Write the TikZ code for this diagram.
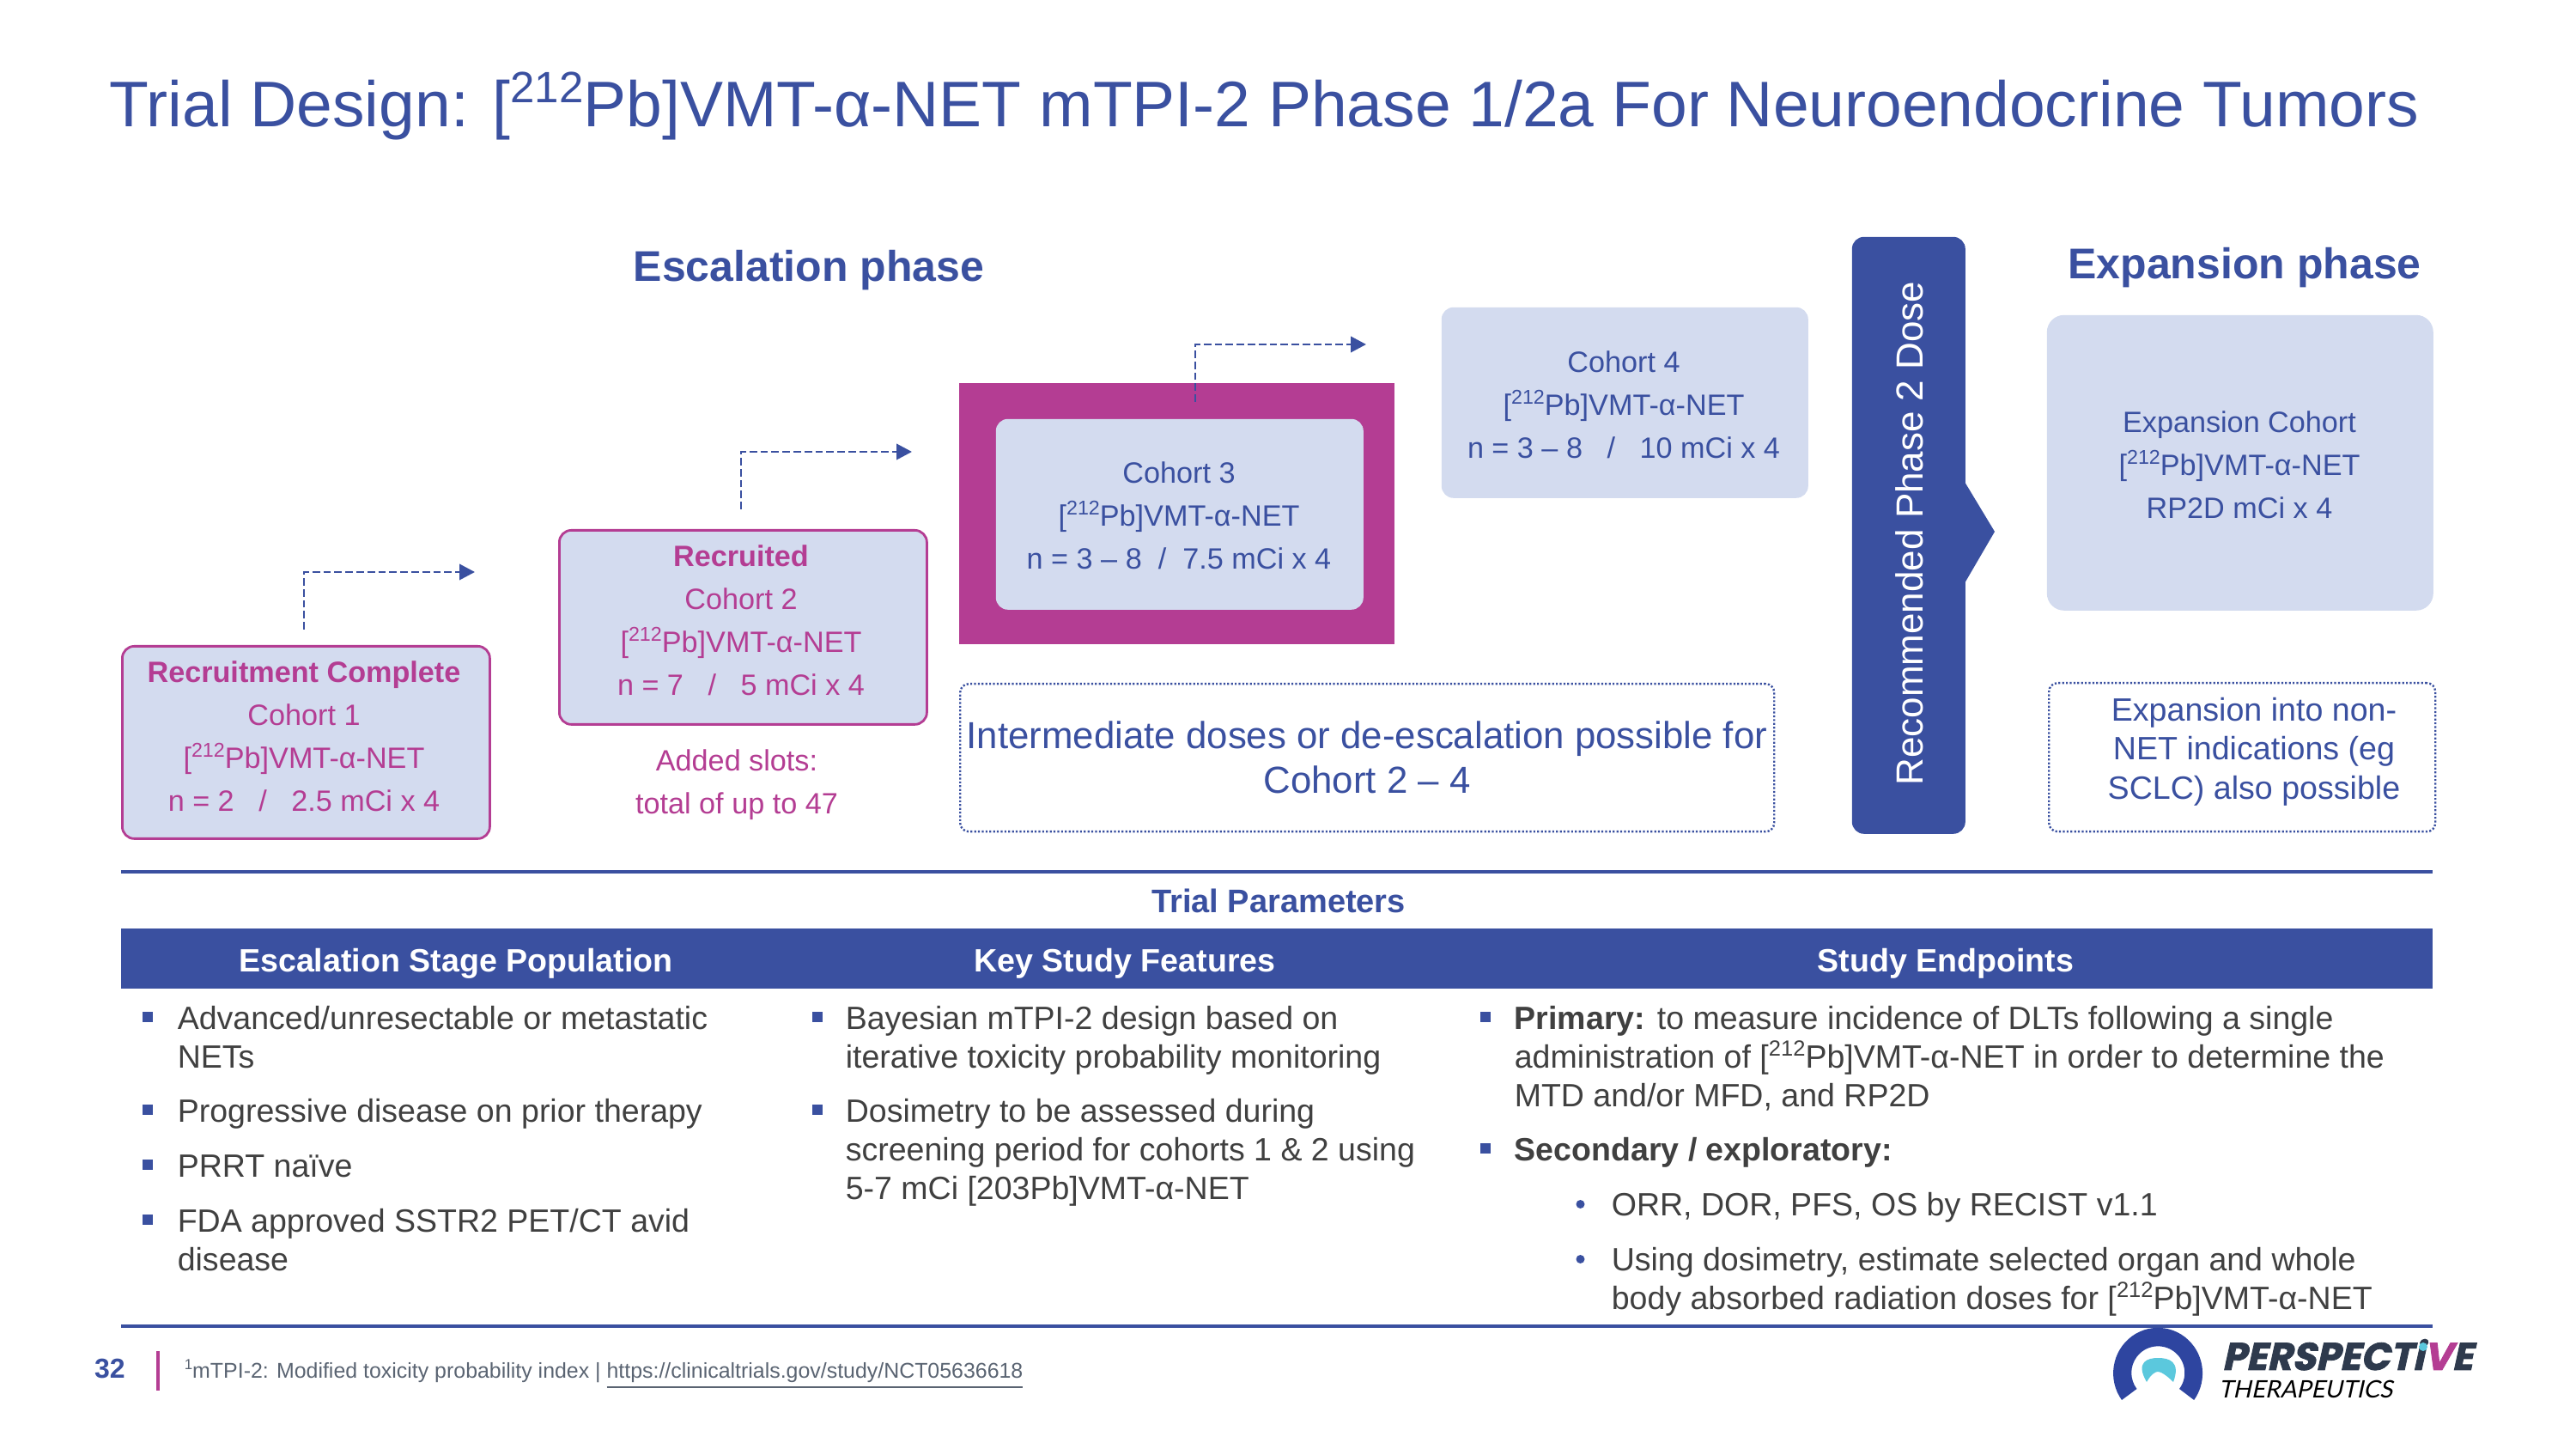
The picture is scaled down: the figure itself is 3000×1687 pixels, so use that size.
\documentclass[tikz,border=0pt]{standalone}
\usepackage{fontspec}
\usepackage{graphicx}
\usetikzlibrary{arrows.meta}
\setmainfont{Liberation Sans}
\newfontfamily\logofont[FakeSlant=0.22,FakeBold=2]{Poppins}
\newfontfamily\logolight[FakeSlant=0.22]{Lato}
\definecolor{pblue}{HTML}{3A50A0}
\definecolor{pmag}{HTML}{B43D93}
\definecolor{plight}{HTML}{D3DBEF}
\definecolor{pgrey}{HTML}{404040}
\definecolor{pfoot}{HTML}{5A6472}
\definecolor{pnavy}{HTML}{2E3A4D}
\definecolor{pteal}{HTML}{5BC8DD}
\definecolor{plogo}{HTML}{2E45A0}
\newcommand{\sups}[1]{\raisebox{0.38em}{\scalebox{0.68}{#1}}}
\newcommand{\pbn}{[\sups{212}Pb]VMT-α-NET}
\newcommand{\fl}{\vphantom{d}}
\tikzset{
 x=0.25pt,y=-0.25pt,
 fillbox/.style={fill=plight,draw=none,rounded corners=3.5pt},
 cohortlabel/.style={text=pblue,align=center,font=\fontsize{8.55}{12.5}\selectfont},
 maglabel/.style={text=pmag,align=center,font=\fontsize{8.55}{12.5}\selectfont},
 magbox/.style={fill=plight,draw=pmag,line width=0.7pt,rounded corners=3.5pt},
 dotbox/.style={draw=pblue,line width=0.6pt,dash pattern=on 0.55pt off 0.55pt,rounded corners=2.5pt},
 stepline/.style={draw=pblue,line width=0.65pt,dash pattern=on 2.2pt off 1pt,-{Triangle[length=4.5pt,width=4.6pt]}},
 rulel/.style={draw=pblue,line width=0.8pt},
 head/.style={font=\fontsize{9.4}{12}\selectfont\bfseries,text=white,anchor=base,inner sep=0pt},
 body/.style={font=\fontsize{9.38}{11.25}\selectfont,text=pgrey,anchor=north west,inner sep=0pt,align=left},
 sq/.style={fill=pblue,draw=none},
}
\newcommand{\bsq}[2]{\fill[sq] (#1-6,#2-6) rectangle (#1+6,#2+6);}
\begin{document}
\begin{tikzpicture}
\useasboundingbox (0,0) rectangle (3000,1687);
\fill[white] (0,0) rectangle (3000,1687);
\node[anchor=base west,inner sep=0pt,text=pblue,font=\fontsize{18.75}{22}\selectfont] (title) at (127,148) {Trial Design: [\sups{212}Pb]VMT-α-NET mTPI-2 Phase 1/2a For Neuroendocrine Tumors};
\node[anchor=base,inner sep=0pt,text=pblue,font=\fontsize{12.5}{15}\selectfont\bfseries] (esc) at (942,328) {Escalation phase};
\node[anchor=base,inner sep=0pt,text=pblue,font=\fontsize{12.5}{15}\selectfont\bfseries] (exp) at (2614,325) {Expansion phase};
% cohort 1
\node[magbox,minimum width=107pt,minimum height=56pt,inner sep=0pt,anchor=north west] (c1) at (141,751) {};
\node[maglabel] (c1t) at (354,857) {\textbf{Recruitment Complete}\\Cohort 1\\\pbn\\n = 2 \ \ / \ \ 2.5 mCi x 4};
% cohort 2
\node[magbox,minimum width=107pt,minimum height=56.5pt,inner sep=0pt,anchor=north west] (c2) at (650,616) {};
\node[maglabel] (c2t) at (863,722) {\textbf{Recruited}\\Cohort 2\\\pbn\\n = 7 \ \ / \ \ 5 mCi x 4};
\node[maglabel] (added) at (858,914) {Added slots:\\total of up to 47};
% cohort 3
\fill[pmag] (1117,446) rectangle (1624,750);
\node[fillbox,minimum width=107pt,minimum height=55.5pt,inner sep=0pt,anchor=north west] (c3) at (1159,487) {};
\node[cohortlabel] (c3t) at (1373,600) {Cohort 3\\\pbn\\n = 3 – 8 \ / \ 7.5 mCi x 4};
% cohort 4
\node[fillbox,minimum width=106.75pt,minimum height=55.5pt,inner sep=0pt,anchor=north west] (c4) at (1678,357) {};
\node[cohortlabel] (c4t) at (1891,471) {Cohort 4\\\pbn\\n = 3 – 8 \ \ / \ \ 10 mCi x 4};
% arrows
\coordinate (a1s) at (354,733); \coordinate (a1m) at (354,666); \coordinate (a1e) at (553,666);
\coordinate (a2s) at (863,593); \coordinate (a2m) at (863,526); \coordinate (a2e) at (1062,526);
\coordinate (a3s) at (1392,468); \coordinate (a3m) at (1392,401); \coordinate (a3e) at (1591,401);
\draw[stepline] (a1s) -- (a1m) -- (a1e);
\draw[stepline] (a2s) -- (a2m) -- (a2e);
\draw[stepline] (a3s) -- (a3m) -- (a3e);
% dotted
\node[dotbox,minimum width=237pt,minimum height=43pt,inner sep=0pt,anchor=north west] (d1) at (1117,795) {};
\node[text=pblue,align=center,font=\fontsize{10.95}{13}\selectfont] (d1t) at (1592,882) {Intermediate doses or de-escalation possible for\\Cohort 2 – 4};
% R2PD bar
\fill[pblue] (2288,561) -- (2323,619) -- (2288,679) -- cycle;
\node[fill=pblue,rounded corners=3.5pt,minimum width=33pt,minimum height=173.75pt,inner sep=0pt,anchor=north west] (bar) at (2156,275) {};
\node[rotate=90,text=white,font=\fontsize{11}{14}\selectfont] (bart) at (2224,621) {Recommended Phase 2 Dose};
% expansion
\node[fillbox,rounded corners=5pt,minimum width=112.5pt,minimum height=86pt,inner sep=0pt,anchor=north west] (ex) at (2383,366) {};
\node[cohortlabel] (ext) at (2608,541) {Expansion Cohort\\\pbn\\RP2D mCi x 4};
\node[dotbox,minimum width=112.5pt,minimum height=43.25pt,inner sep=0pt,anchor=north west] (d2) at (2385,794) {};
\node[text=pblue,align=center,font=\fontsize{9.4}{11.4}\selectfont] (d2t) at (2625,875) {Expansion into non-\\NET indications (eg\\SCLC) also possible};
% table
\coordinate (r1a) at (141,1015); \coordinate (r1b) at (2833,1015);
\coordinate (r2a) at (141,1544); \coordinate (r2b) at (2833,1544);
\draw[rulel] (r1a) -- (r1b);
\draw[rulel] (r2a) -- (r2b);
\node[anchor=base,inner sep=0pt,text=pblue,font=\fontsize{9.5}{12}\selectfont\bfseries] (tp) at (1489,1063) {Trial Parameters};
\fill[pblue] (141,1081) rectangle (2833,1151);
\node[head] (h1) at (531,1132) {Escalation Stage Population};
\node[head] (h2) at (1310,1132) {Key Study Features};
\node[head] (h3) at (2266,1132) {Study Endpoints};
% col 1
\bsq{172}{1184}
\node[body] (b1) at (206,1170.6) {\fl Advanced/unresectable or metastatic\\NETs};
\bsq{172}{1292}
\node[body] (b2) at (206,1279) {\fl Progressive disease on prior therapy};
\bsq{172}{1356}
\node[body] (b3) at (206,1342.6) {\fl PRRT naïve};
\bsq{172}{1420}
\node[body] (b4) at (206,1406.6) {\fl FDA approved SSTR2 PET/CT avid\\disease};
% col 2
\bsq{952}{1184}
\node[body] (b5) at (984,1170.6) {\fl Bayesian mTPI-2 design based on\\iterative toxicity probability monitoring};
\bsq{952}{1292}
\node[body] (b6) at (984,1279) {\fl Dosimetry to be assessed during\\screening period for cohorts 1 \& 2 using\\5-7 mCi [203Pb]VMT-α-NET};
% col 3
\bsq{1730}{1184}
\node[body] (b7) at (1763,1170.6) {\fl\textbf{Primary:} to measure incidence of DLTs following a single\\administration of \pbn{} in order to determine the\\MTD and/or MFD, and RP2D};
\bsq{1730}{1337}
\node[body] (b8) at (1763,1323.6) {\fl\textbf{Secondary / exploratory:}};
\fill[pblue] (1840.5,1402) circle (5);
\node[body] (b9) at (1876,1387.6) {\fl ORR, DOR, PFS, OS by RECIST v1.1};
\fill[pblue] (1840.5,1466) circle (5);
\node[body] (b10) at (1876,1451.6) {\fl Using dosimetry, estimate selected organ and whole\\body absorbed radiation doses for \pbn};
% footer
\node[anchor=base,inner sep=0pt,text=pblue,font=\fontsize{8}{10}\selectfont\bfseries] (pg) at (128,1604) {32};
\fill[pmag] (182,1573) rectangle (186,1619);
\node[anchor=base west,inner sep=0pt,text=pfoot,font=\fontsize{6.23}{8}\selectfont] (fn) at (214,1604) {\sups{1}mTPI-2: Modified toxicity probability index | \underline{https://clinicaltrials.gov/study/NCT05636618}};
% logo
\fill[plogo] (2471,1630) arc[start angle=144,end angle=396,x radius=52,y radius=53] -- (2538,1617) arc[start angle=397,end angle=143,radius=31] -- cycle;
\fill[pteal] (2500,1609) .. controls (2486,1585) and (2502,1581) .. (2513,1581) .. controls (2526,1581) and (2540,1585) .. (2531,1609) .. controls (2522,1600) and (2516,1597) .. (2513,1597) .. controls (2510,1597) and (2505,1600) .. (2500,1609) -- cycle;
\node[anchor=base west,inner sep=0pt,text=pnavy,font=\fontsize{11.2}{12}\logofont\bfseries] (lg) at (2587,1595) {PERSPECTi\textcolor{pmag}{V}E};
\fill[pteal] (2822,1568) circle (5);
\node[anchor=base west,inner sep=0pt,text=black,font=\fontsize{7}{9}\logolight] (lg2) at (2583,1627) {THERAPEUTICS};
\end{tikzpicture}
\end{document}
